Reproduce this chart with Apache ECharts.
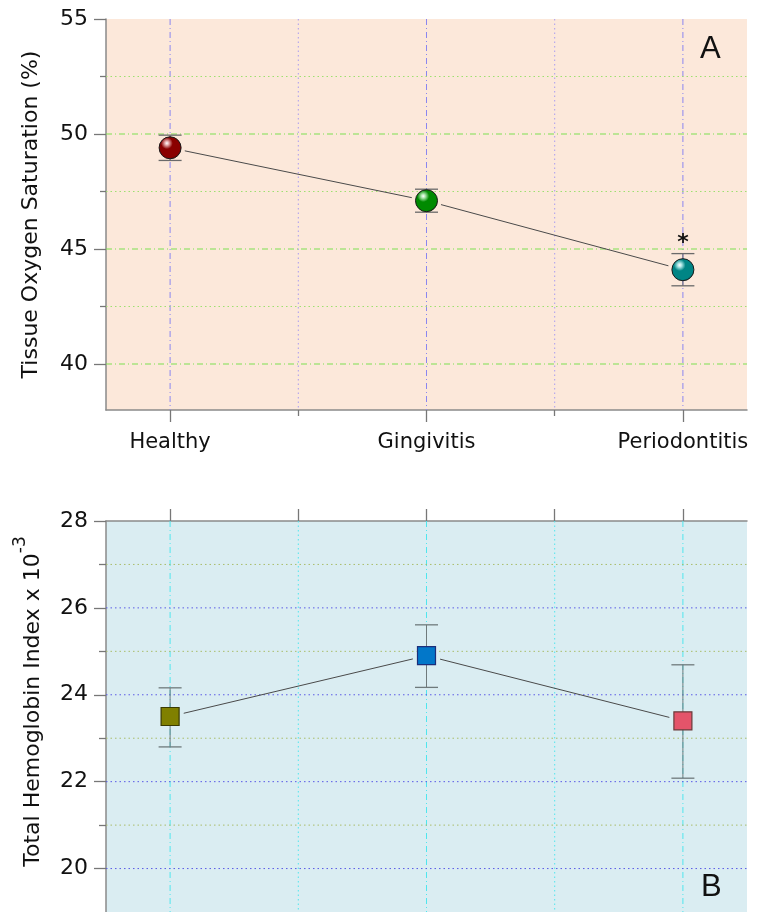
<!DOCTYPE html>
<html>
<head>
<meta charset="utf-8">
<script src="https://cdn.jsdelivr.net/npm/echarts@6/dist/echarts.min.js"></script>
<style>
html,body{margin:0;padding:0;background:#fff;}
#chart{width:769px;height:912px;}
</style>
</head>
<body>
<div id="chart"></div>
<script>
// ---------- data ----------
const categories = ['Healthy', 'Gingivitis', 'Periodontitis'];
const catPos = [0, 1, 2];
const midPos = [0.5, 1.5];

const satMean = [49.4, 47.1, 44.1];
const satLow  = [48.85, 46.6, 43.4];
const satHigh = [49.95, 47.6, 44.8];
const satSig  = ['', '', '*'];
const satTicks = [40, 45, 50, 55];
const satMinorTicks = [42.5, 47.5, 52.5];
const satGridMajor = [40, 45, 50];

const hbMean = [23.5, 24.9, 23.4];
const hbLow  = [22.8, 24.17, 22.08];
const hbHigh = [24.16, 25.61, 24.69];
const hbTicks = [20, 22, 24, 26, 28];
const hbMinorTicks = [21, 23, 25, 27];
const hbGridMajor = [20, 22, 24, 26];

// ---------- styles ----------
const FONT = 'DejaVu Sans';
const sphereBase = ['#8a0000', '#008a00', '#008585'];
const sphereDark = ['#3c0000', '#003c00', '#003a3a'];
const sphereLight = ['#e8b0b0', '#b0e8b0', '#b0e8e8'];
const squareFill = ['#808000', '#0277c9', '#e4546a'];
const squareBorder = ['#3a3a00', '#1c2e7a', '#6a3a3a'];

function sphere(i) {
  return {
    type: 'radial', x: 0.36, y: 0.3, r: 0.85,
    colorStops: [
      {offset: 0, color: '#ffffff'},
      {offset: 0.1, color: sphereLight[i]},
      {offset: 0.3, color: sphereBase[i]},
      {offset: 0.75, color: sphereBase[i]},
      {offset: 1, color: sphereDark[i]}
    ]
  };
}

const chart = echarts.init(document.getElementById('chart'), null, {renderer: 'canvas'});

function segRender(gap) {
  return function (params, api) {
    const p0 = api.coord([api.value(0), api.value(1)]);
    const p1 = api.coord([api.value(2), api.value(3)]);
    const dx = p1[0] - p0[0], dy = p1[1] - p0[1];
    const len = Math.sqrt(dx * dx + dy * dy);
    const ux = dx / len, uy = dy / len;
    return {
      type: 'line',
      shape: {x1: p0[0] + ux * gap, y1: p0[1] + uy * gap, x2: p1[0] - ux * gap, y2: p1[1] - uy * gap},
      style: {stroke: '#4a4a4a', lineWidth: 1}
    };
  };
}

function errRender(capHalf, color, sigArr) {
  return function (params, api) {
    const x = api.value(0);
    const lo = api.coord([x, api.value(1)]);
    const hi = api.coord([x, api.value(2)]);
    const children = [
      {type: 'line', shape: {x1: lo[0], y1: lo[1], x2: hi[0], y2: hi[1]}, style: {stroke: color, lineWidth: 1}},
      {type: 'line', shape: {x1: lo[0] - capHalf, y1: lo[1], x2: lo[0] + capHalf, y2: lo[1]}, style: {stroke: color, lineWidth: 1.3}},
      {type: 'line', shape: {x1: hi[0] - capHalf, y1: hi[1], x2: hi[0] + capHalf, y2: hi[1]}, style: {stroke: color, lineWidth: 1.3}}
    ];
    if (sigArr && sigArr[params.dataIndex]) {
      children.push({
        type: 'text',
        style: {text: sigArr[params.dataIndex], x: hi[0], y: hi[1] + 1, align: 'center', verticalAlign: 'bottom',
                font: 'bold 22px "' + FONT + '"', fill: '#111'}
      });
    }
    return {type: 'group', children: children};
  };
}

function segData(vals) {
  return vals.slice(0, -1).map((v, i) => [catPos[i], v, catPos[i + 1], vals[i + 1]]);
}

const dashDot = [6, 3, 1, 3];
const dotted = [1.5, 3];

const axisLineStyle = {color: '#8a8a8a', width: 1.5};
const tickStyle = {color: '#777', width: 1.3};

// grid lines drawn across the whole plot area via a custom series
function gridLineSeries(xi, yi, vertical, values, refOther, color, dash) {
  return {
    type: 'custom', xAxisIndex: xi, yAxisIndex: yi, z: 1, silent: true, clip: false,
    data: values.map(v => vertical ? [v, refOther] : [refOther, v]),
    renderItem: function (params, api) {
      const cs = params.coordSys;
      const p = api.coord([api.value(0), api.value(1)]);
      const shape = vertical
        ? {x1: p[0], y1: cs.y, x2: p[0], y2: cs.y + cs.height}
        : {x1: cs.x, y1: p[1], x2: cs.x + cs.width, y2: p[1]};
      return {type: 'line', shape: shape, style: {stroke: color, lineWidth: 1, lineDash: dash}};
    }
  };
}

const option = {
  animation: false,
  backgroundColor: '#ffffff',
  textStyle: {fontFamily: FONT},
  grid: [
    {left: 106, top: 19, right: 22, height: 391, show: true, backgroundColor: '#fce8da', borderWidth: 0},
    {left: 106, top: 521, right: 22, bottom: 0, show: true, backgroundColor: '#daedf2', borderWidth: 0}
  ],
  xAxis: [
    {
      type: 'value', gridIndex: 0, min: -0.25, max: 2.25, position: 'bottom',
      axisLine: {show: true, onZero: false, lineStyle: axisLineStyle},
      axisTick: {show: true, customValues: catPos, length: 12, lineStyle: tickStyle},
      axisLabel: {show: true, customValues: catPos, formatter: v => categories[Math.round(v)],
                  fontSize: 21, color: '#111', margin: 22, fontFamily: FONT},
      splitLine: {show: false}
    },
    {
      type: 'value', gridIndex: 0, min: -0.25, max: 2.25, position: 'bottom',
      axisLine: {show: false, onZero: false},
      axisTick: {show: true, customValues: midPos, length: 6, lineStyle: tickStyle},
      axisLabel: {show: false},
      splitLine: {show: false}
    },
    {
      type: 'value', gridIndex: 1, min: -0.25, max: 2.25, position: 'top',
      axisLine: {show: true, onZero: false, lineStyle: axisLineStyle},
      axisTick: {show: true, customValues: [0, 0.5, 1, 1.5, 2], length: 12, lineStyle: tickStyle},
      axisLabel: {show: false},
      splitLine: {show: false}
    }
  ],
  yAxis: [
    {
      type: 'value', gridIndex: 0, min: 38, max: 55, position: 'left',
      name: 'Tissue Oxygen Saturation (%)', nameLocation: 'middle', nameGap: 64, nameRotate: 90,
      nameTextStyle: {fontSize: 22, color: '#111', fontFamily: FONT},
      axisLine: {show: true, onZero: false, lineStyle: axisLineStyle},
      axisTick: {show: true, customValues: satTicks, length: 12, lineStyle: tickStyle},
      axisLabel: {show: true, customValues: satTicks, fontSize: 22, color: '#111', margin: 18, fontFamily: FONT},
      splitLine: {show: false}
    },
    {
      type: 'value', gridIndex: 0, min: 38, max: 55, position: 'left',
      axisLine: {show: false, onZero: false},
      axisTick: {show: true, customValues: satMinorTicks, length: 6, lineStyle: tickStyle},
      axisLabel: {show: false},
      splitLine: {show: false}
    },
    {
      type: 'value', gridIndex: 1, min: 19, max: 28, position: 'left',
      name: '{m|Total Hemoglobin Index x 10}{s|-3}', nameLocation: 'middle', nameGap: 62, nameRotate: 90,
      nameTextStyle: {
        fontSize: 22, color: '#111', fontFamily: FONT, padding: [0, 0, 0, 30],
        rich: {
          m: {fontSize: 22, color: '#111', fontFamily: FONT, lineHeight: 32, verticalAlign: 'bottom'},
          s: {fontSize: 17, color: '#111', fontFamily: FONT, lineHeight: 32, verticalAlign: 'top'}
        }
      },
      axisLine: {show: true, onZero: false, lineStyle: axisLineStyle},
      axisTick: {show: true, customValues: hbTicks, length: 12, lineStyle: tickStyle},
      axisLabel: {show: true, customValues: hbTicks, fontSize: 22, color: '#111', margin: 18, fontFamily: FONT},
      splitLine: {show: false}
    },
    {
      type: 'value', gridIndex: 1, min: 19, max: 28, position: 'left',
      axisLine: {show: false, onZero: false},
      axisTick: {show: true, customValues: hbMinorTicks, length: 7, lineStyle: tickStyle},
      axisLabel: {show: false},
      splitLine: {show: false}
    }
  ],
  graphic: [
    {type: 'text', left: 700, top: 34, style: {text: 'A', font: '31px "Liberation Sans"', fill: '#111'}},
    {type: 'text', left: 701, top: 872, style: {text: 'B', font: '31px "Liberation Sans"', fill: '#111'}}
  ],
  series: [
    // ----- grid lines, panel A -----
    gridLineSeries(0, 0, true, catPos, 45, '#8a86f0', dashDot),
    gridLineSeries(0, 0, true, midPos, 45, '#a99cf0', dotted),
    gridLineSeries(0, 0, false, satGridMajor, 1, '#7de050', dashDot),
    gridLineSeries(0, 0, false, satMinorTicks, 1, '#9ee070', dotted),
    // ----- grid lines, panel B -----
    gridLineSeries(2, 2, true, catPos, 24, '#4fe6ee', dashDot),
    gridLineSeries(2, 2, true, midPos, 24, '#4fe6ee', dotted),
    gridLineSeries(2, 2, false, hbGridMajor, 1, '#5a5ae6', dotted),
    gridLineSeries(2, 2, false, hbMinorTicks, 1, '#a9bd6a', dotted),
    // ----- panel A -----
    {
      type: 'custom', xAxisIndex: 0, yAxisIndex: 0, z: 3, silent: true,
      renderItem: segRender(15),
      data: segData(satMean)
    },
    {
      type: 'custom', xAxisIndex: 0, yAxisIndex: 0, z: 3, silent: true,
      renderItem: errRender(11.5, '#6a6a6a', satSig),
      data: catPos.map((x, i) => [x, satLow[i], satHigh[i]])
    },
    {
      type: 'scatter', xAxisIndex: 0, yAxisIndex: 0, z: 4, silent: true,
      symbol: 'circle', symbolSize: 22,
      data: satMean.map((v, i) => ({value: [catPos[i], v], itemStyle: {color: sphere(i), borderColor: '#1a1a1a', borderWidth: 1, opacity: 1}}))
    },
    // ----- panel B -----
    {
      type: 'custom', xAxisIndex: 2, yAxisIndex: 2, z: 3, silent: true,
      renderItem: segRender(14),
      data: segData(hbMean)
    },
    {
      type: 'custom', xAxisIndex: 2, yAxisIndex: 2, z: 3, silent: true,
      renderItem: errRender(11.5, '#6f7a7c', null),
      data: catPos.map((x, i) => [x, hbLow[i], hbHigh[i]])
    },
    {
      type: 'scatter', xAxisIndex: 2, yAxisIndex: 2, z: 4, silent: true,
      symbol: 'rect', symbolSize: 18,
      data: hbMean.map((v, i) => ({value: [catPos[i], v], itemStyle: {color: squareFill[i], borderColor: squareBorder[i], borderWidth: 1.2, opacity: 1}}))
    }
  ]
};

chart.setOption(option);
</script>
</body>
</html>
